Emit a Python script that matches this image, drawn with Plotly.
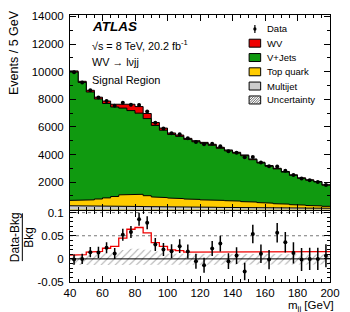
import plotly.graph_objects as go

# ---------------- data ----------------
bin_edges = list(range(40, 205, 5))          # m_jj bin edges [GeV]
multijet = [290, 280, 282, 270, 268, 258, 252, 243, 238, 229, 222, 214, 207, 203, 196, 190,
            184, 181, 174, 170, 163, 158, 154, 149, 143, 139, 133, 128, 124, 119, 115, 111]
top_quark = [390, 410, 438, 510, 592, 702, 828, 887, 882, 791, 708, 666, 643, 607, 584, 560,
             536, 519, 506, 490, 467, 432, 406, 371, 337, 301, 277, 242, 216, 191, 165, 139]
v_jets = [9290, 8525, 7805, 7240, 6833, 6480, 6280, 6050, 5875, 5580, 5175, 4880, 4603, 4505, 4315, 4175,
          4090, 3970, 3775, 3605, 3470, 3322, 3065, 2868, 2672, 2520, 2318, 2122, 1935, 1827, 1734, 1532]
wv = [80, 85, 125, 130, 177, 200, 330, 460, 475, 370, 215, 155, 107, 95, 75, 75,
      70, 70, 65, 65, 60, 58, 55, 52, 48, 45, 42, 38, 35, 33, 31, 28]
data = [9955, 9215, 8649, 8132, 7878, 7526, 7743, 7596, 7593, 7115, 6294, 5877, 5544, 5461, 5177, 4900,
        4744, 4775, 4602, 4244, 4129, 3806, 3821, 3425, 3147, 3127, 2826, 2524, 2272, 2137, 2014, 1794]
# relative data uncertainty (as drawn in the ratio panel)
data_rel_err = [0.011, 0.011, 0.011, 0.012, 0.012, 0.012, 0.013, 0.013, 0.014, 0.014, 0.014, 0.014, 0.015, 0.015, 0.015, 0.016,
                0.016, 0.016, 0.017, 0.017, 0.018, 0.019, 0.020, 0.020, 0.021, 0.021, 0.022, 0.023, 0.025, 0.024, 0.024, 0.025]
# background uncertainty band in the ratio panel
unc_up = [0.008, 0.008, 0.009, 0.010, 0.012, 0.015, 0.019, 0.022, 0.022, 0.020, 0.016, 0.013, 0.011, 0.010, 0.010, 0.010,
          0.010, 0.010, 0.010, 0.010, 0.010, 0.010, 0.010, 0.010, 0.010, 0.010, 0.010, 0.010, 0.010, 0.010, 0.010, 0.010]
unc_dn = [-0.013, -0.013, -0.013, -0.013, -0.013, -0.013, -0.013, -0.013, -0.013, -0.013, -0.013, -0.013, -0.012, -0.012, -0.012, -0.012,
          -0.012, -0.012, -0.012, -0.012, -0.012, -0.012, -0.012, -0.012, -0.012, -0.012, -0.012, -0.012, -0.012, -0.012, -0.012, -0.012]

y_ticks_main = [2000, 4000, 6000, 8000, 10000, 12000, 14000]
y_ticktext_main = ["2000", "4000", "6000", "8000", "10000", "12000", "14000"]
y_ticks_ratio = [-0.05, 0, 0.05, 0.1]
y_ticktext_ratio = ["-0.05", "0", "0.05", "0.1"]
x_ticks = [40, 60, 80, 100, 120, 140, 160, 180, 200]
x_ticktext = ["40", "60", "80", "100", "120", "140", "160", "180", "200"]

# ---------------- helpers ----------------
FONT = "Liberation Sans"
W, H = 350, 312
L, R, T, B = 70, 10, 14, 30


def xp(px):
    return (px - L) / (W - L - R)


def yp(py):
    return (H - B - py) / (H - T - B)


def steps(vals):
    xs, ys = [], []
    for i, v in enumerate(vals):
        xs += [bin_edges[i], bin_edges[i + 1]]
        ys += [v, v]
    return xs, ys


n = len(multijet)
centers = [(bin_edges[i] + bin_edges[i + 1]) / 2 for i in range(n)]
c_mj = multijet
c_top = [multijet[i] + top_quark[i] for i in range(n)]
c_vj = [c_top[i] + v_jets[i] for i in range(n)]
bkg = c_vj
c_wv = [c_vj[i] + wv[i] for i in range(n)]

RED = "#ee0000"
GREEN = "#109a10"
YELLOW = "#ffcc00"
GRAY = "#cccccc"

fig = go.Figure()

for vals, col in [(c_wv, RED), (c_vj, GREEN), (c_top, YELLOW), (c_mj, GRAY)]:
    xs, ys = steps(vals)
    fig.add_trace(go.Scatter(x=xs, y=ys, mode="lines", fill="tozeroy", fillcolor=col,
                             line=dict(color="black", width=1), xaxis="x", yaxis="y",
                             showlegend=False, hoverinfo="skip"))

fig.add_trace(go.Scatter(x=centers, y=data, mode="markers", xaxis="x", yaxis="y",
                         marker=dict(color="black", size=4),
                         error_y=dict(type="data", array=[data_rel_err[i] * bkg[i] for i in range(n)],
                                      color="black", thickness=1.2, width=0),
                         showlegend=False))

# ratio panel
ux, uy = steps(unc_up)
dx, dy = steps(unc_dn)
fig.add_trace(go.Scatter(x=ux + dx[::-1], y=uy + dy[::-1], mode="lines", fill="toself",
                         fillcolor="rgba(0,0,0,0)",
                         fillpattern=dict(shape="/", fgcolor="#555555", bgcolor="rgba(0,0,0,0)", size=5, solidity=0.2),
                         line=dict(width=0), xaxis="x2", yaxis="y2", showlegend=False, hoverinfo="skip"))
rx, ry = steps([wv[i] / bkg[i] for i in range(n)])
fig.add_trace(go.Scatter(x=rx, y=ry, mode="lines", line=dict(color=RED, width=1.3),
                         xaxis="x2", yaxis="y2", showlegend=False))
fig.add_trace(go.Scatter(x=centers, y=[(data[i] - bkg[i]) / bkg[i] for i in range(n)], mode="markers",
                         xaxis="x2", yaxis="y2", marker=dict(color="black", size=4),
                         error_y=dict(type="data", array=data_rel_err, color="black", thickness=1.5, width=0),
                         showlegend=False))

axis_common = dict(showline=True, linecolor="black", linewidth=1, mirror="allticks",
                   ticks="inside", tickcolor="black", showgrid=False, zeroline=False,
                   tickfont=dict(family=FONT, size=11.5, color="black"))

fig.update_layout(
    width=W, height=H, margin=dict(l=L, r=R, t=T, b=B),
    paper_bgcolor="white", plot_bgcolor="white", showlegend=False,
    xaxis=dict(domain=[0, 1], range=[40, 200], anchor="y", showticklabels=False,
               tickvals=x_ticks, ticklen=6, minor=dict(dtick=5, tick0=40, ticklen=3, ticks="inside", tickcolor="black"),
               **axis_common),
    yaxis=dict(domain=[0.2705, 1], range=[0, 14100], anchor="x", tickvals=y_ticks_main, ticktext=y_ticktext_main,
               ticklen=6, ticklabelstandoff=3,
               minor=dict(dtick=1000, tick0=0, ticklen=3, ticks="inside", tickcolor="black"), **axis_common),
    xaxis2=dict(domain=[0, 1], range=[40, 200], anchor="y2", tickvals=x_ticks, ticktext=x_ticktext, ticklen=6,
                minor=dict(dtick=5, tick0=40, ticklen=3, ticks="inside", tickcolor="black"), **axis_common),
    yaxis2=dict(domain=[0, 0.265], range=[-0.05, 0.103], anchor="x2", tickvals=y_ticks_ratio,
                ticktext=y_ticktext_ratio, ticklen=6, ticklabelstandoff=3,
                minor=dict(dtick=0.01, tick0=0, ticklen=3, ticks="inside", tickcolor="black"), **axis_common),
)

# reference lines in ratio panel
for yv in [0.05, 0.1]:
    fig.add_shape(type="line", xref="x2", yref="y2", x0=40, x1=200, y0=yv, y1=yv,
                  line=dict(color="#777777", width=1, dash="dot"), layer="below")
fig.add_shape(type="line", xref="x2", yref="y2", x0=40, x1=200, y0=0, y1=0,
              line=dict(color="black", width=1))

ann = []


def text(px, py, s, size, xanchor="left", angle=0, yanchor="middle"):
    ann.append(dict(x=xp(px), y=yp(py), xref="paper", yref="paper", text=s, showarrow=False,
                    xanchor=xanchor, yanchor=yanchor, textangle=angle,
                    font=dict(family=FONT, size=size, color="black")))


text(91, 26, "<b><i>ATLAS</i></b>", 13.5)
text(91, 44, "√s = 8 TeV, 20.2 fb<sup>-1</sup>", 10.8)
text(91, 61, "WV → lνjj", 10.8)
text(91, 79, "Signal Region", 11)
text(12, 52, "Events / 5 GeV", 12.5, xanchor="center", angle=-90)
text(13, 237, "Data-Bkg", 12, xanchor="center", angle=-90)
text(28, 237, "Bkg", 12, xanchor="center", angle=-90)
fig.add_shape(type="line", xref="paper", yref="paper", x0=xp(20.5), x1=xp(20.5), y0=yp(213), y1=yp(261),
              line=dict(color="black", width=1))
text(346, 306, "m<sub>jj</sub> [GeV]", 11.5, xanchor="right")

# legend (drawn manually to match the compact spacing)
lx0, lx1 = 256, 268
tx = 272
fig.add_shape(type="line", xref="paper", yref="paper", x0=xp(262), x1=xp(262), y0=yp(24), y1=yp(32),
              line=dict(color="black", width=1.2))
fig.add_shape(type="circle", xref="paper", yref="paper", x0=xp(260.3), x1=xp(263.7), y0=yp(29.7), y1=yp(26.3),
              fillcolor="black", line=dict(color="black", width=0))
text(tx, 28, "Data", 9.5)
rows = [("WV", RED, 42.3), ("V+Jets", GREEN, 56.7), ("Top quark", YELLOW, 71), ("Multijet", GRAY, 85.3),
        ("Uncertainty", "white", 99.3)]
for name, col, cy in rows:
    fig.add_shape(type="rect", xref="paper", yref="paper", x0=xp(lx0), x1=xp(lx1), y0=yp(cy + 4), y1=yp(cy - 4),
                  fillcolor=col, line=dict(color="black", width=1))
    text(tx, cy, name, 9.5)
# hatch lines inside the "Uncertainty" box
cy = 99.3
by0, by1 = cy + 4, cy - 4
hgt = by0 - by1
k = lx0 - hgt + 2.5
while k < lx1:
    xa, ya = k, by0
    xb, yb = k + hgt, by1
    if xa < lx0:
        ya = by0 - (lx0 - xa)
        xa = lx0
    if xb > lx1:
        yb = by1 + (xb - lx1)
        xb = lx1
    fig.add_shape(type="line", xref="paper", yref="paper", x0=xp(xa), y0=yp(ya), x1=xp(xb), y1=yp(yb),
                  line=dict(color="#444444", width=0.8))
    k += 2.5

fig.update_layout(annotations=ann)
fig.write_html("out.html")
